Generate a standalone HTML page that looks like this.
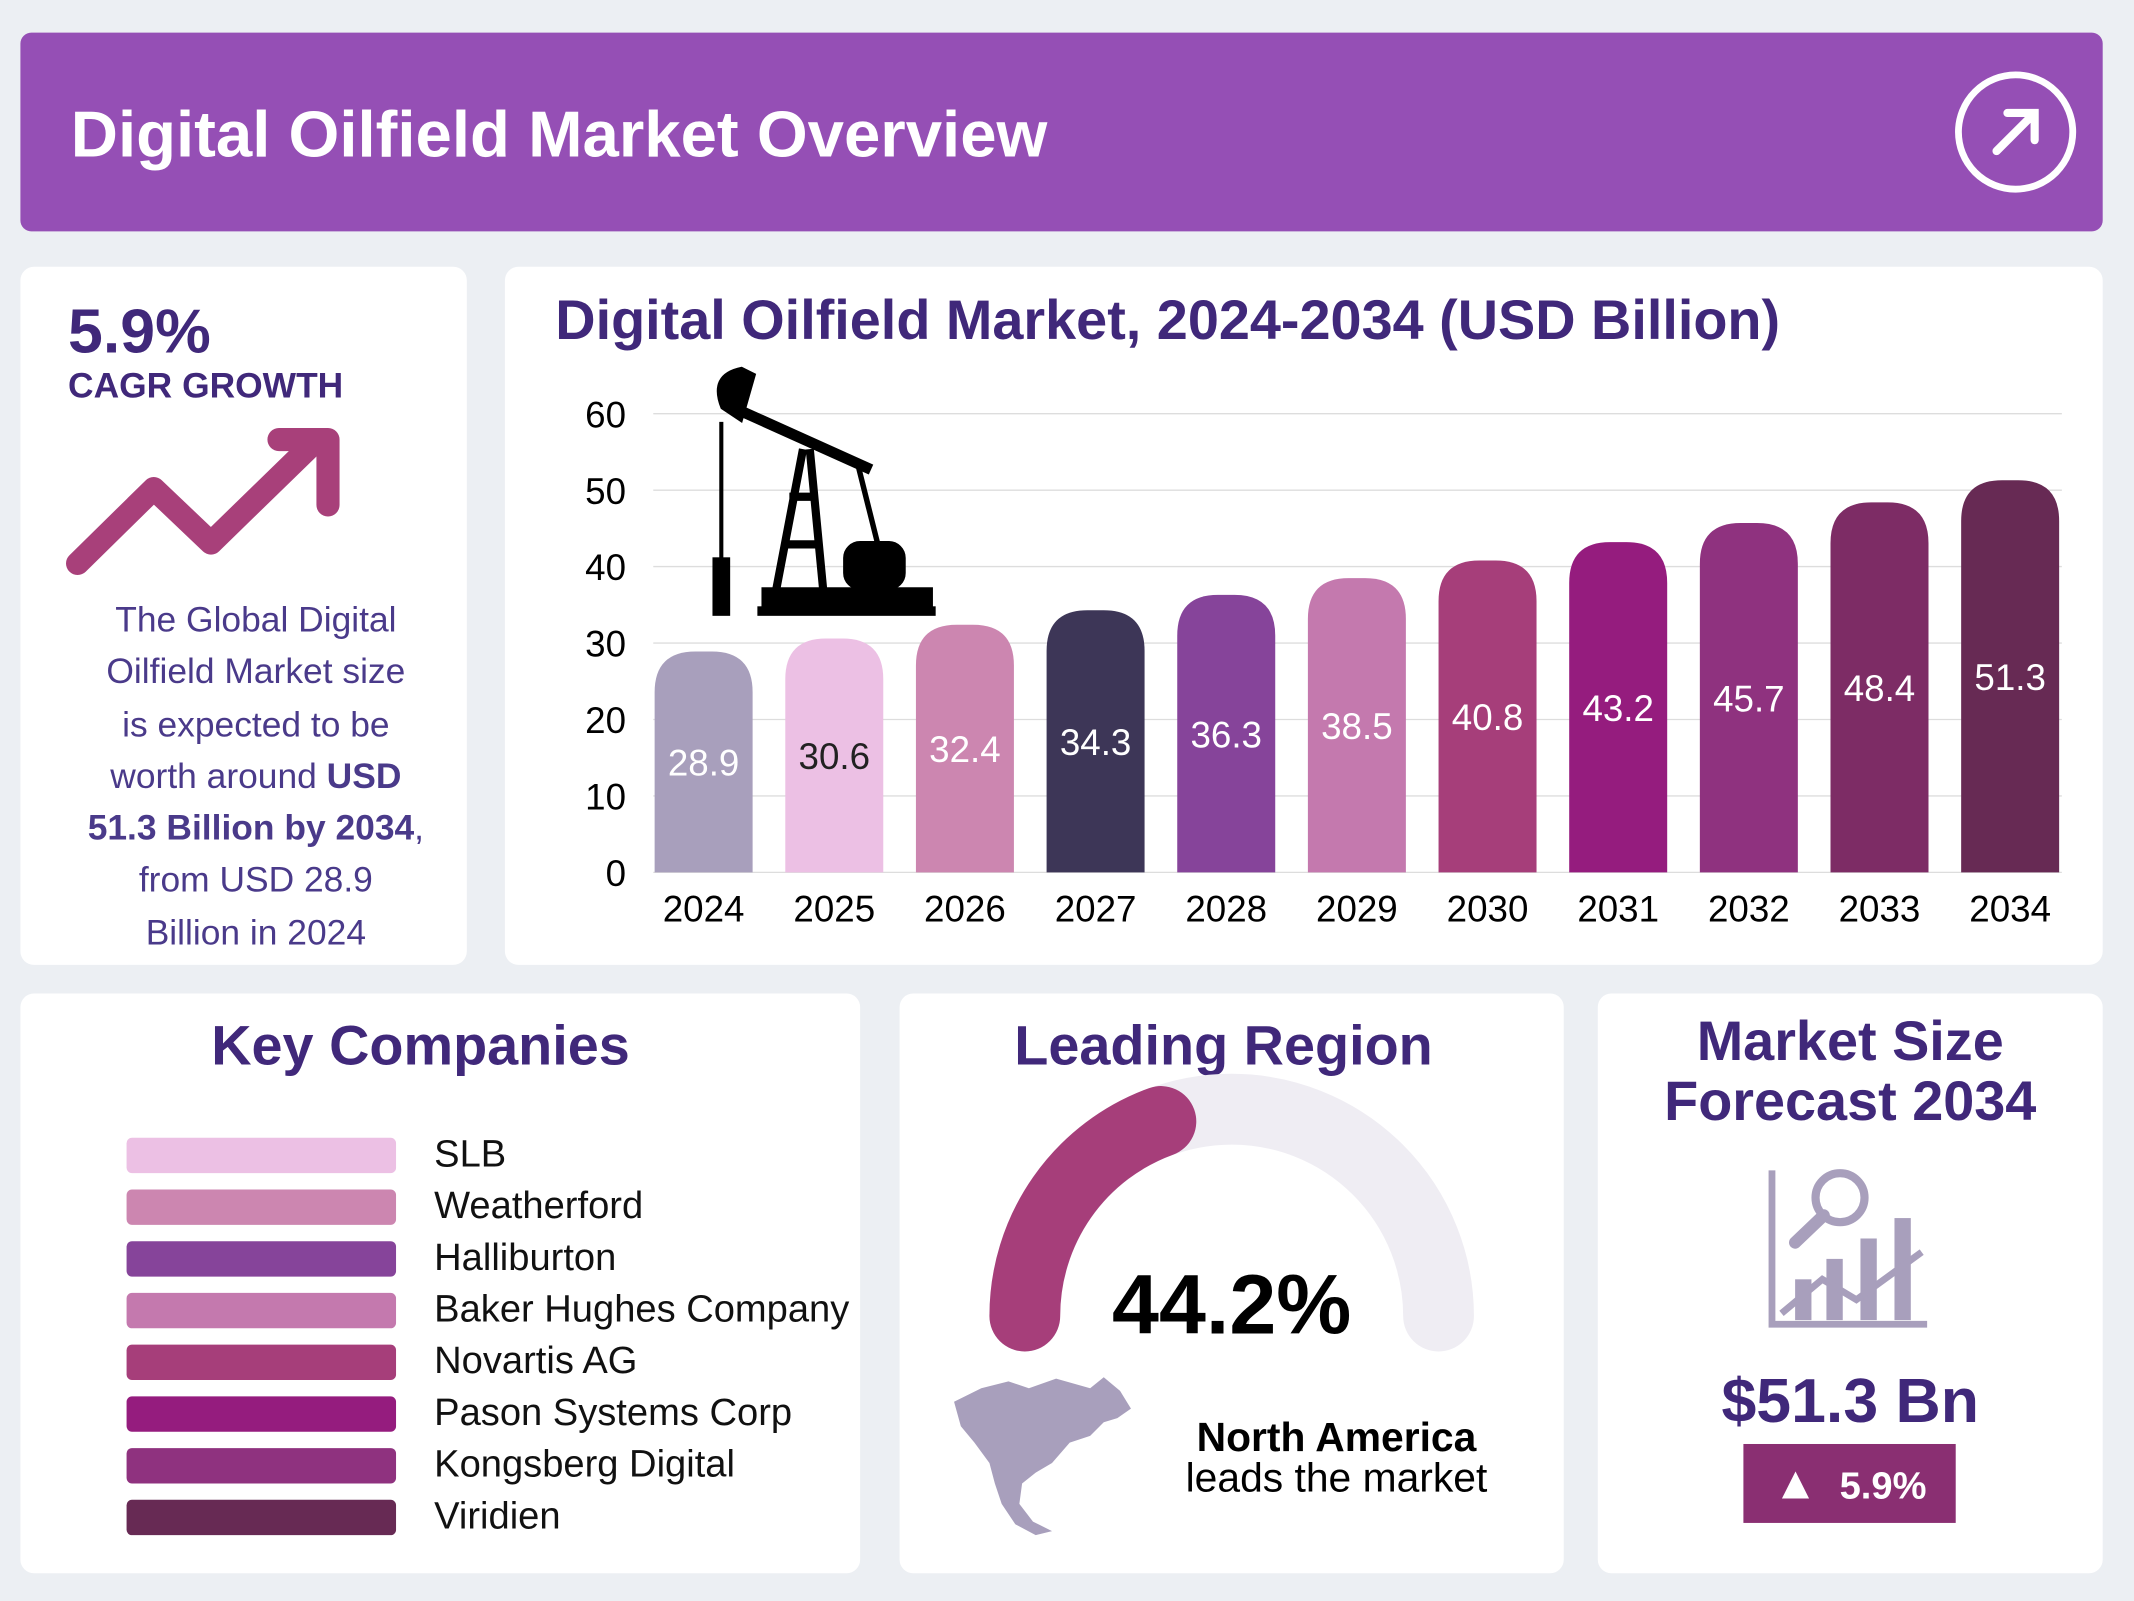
<!DOCTYPE html>
<html><head><meta charset="utf-8"><style>
html,body{margin:0;padding:0;width:2134px;height:1600px;overflow:hidden;background:#eceff3}
#root{position:absolute;left:0;top:0;width:1568px;height:1176px;transform:scale(1.36097);transform-origin:0 0;font-family:"Liberation Sans",sans-serif}
.card{position:absolute;background:#fff;border-radius:10px}
.abs{position:absolute}
.t{color:#40287a;font-weight:bold}
</style></head><body>
<div id="root">
<div class="abs" style="left:15px;top:24px;width:1530px;height:146px;background:#954fb5;border-radius:8px">
 <div class="abs" style="left:37px;top:48px;color:#fff;font-weight:bold;font-size:48px">Digital Oilfield Market Overview</div>
 <svg class="abs" style="left:1420px;top:27px" width="92" height="92"><circle cx="46" cy="46" r="42" fill="none" stroke="#fff" stroke-width="5"/><path d="M32 60 L60 32 M40 32 H60 V52" fill="none" stroke="#fff" stroke-width="6" stroke-linecap="round"/></svg>
</div>

<div class="card" style="left:15px;top:196px;width:328px;height:513px">
 <div class="abs t" style="left:35px;top:20px;font-size:46px">5.9%</div>
 <div class="abs t" style="left:35px;top:72px;font-size:26px">CAGR GROWTH</div>
 <svg class="abs" style="left:30px;top:115px" width="220" height="115"><path d="M12 103 L68 48 L110 88 L185 15" fill="none" stroke="#a8407a" stroke-width="17" stroke-linecap="round" stroke-linejoin="round"/><path d="M160 12 H196 V60" fill="none" stroke="#a8407a" stroke-width="17" stroke-linecap="round" stroke-linejoin="round"/></svg>
 <div class="abs" style="left:0;top:240px;width:346px;text-align:center;font-size:26px;line-height:38.3px;color:#4a3a8a;white-space:nowrap">The Global Digital<br>Oilfield Market size<br>is expected to be<br>worth around <b>USD</b><br><b>51.3 Billion by 2034</b>,<br>from USD 28.9<br>Billion in 2024</div>
</div>

<div class="card" style="left:371px;top:196px;width:1174px;height:513px">
 <div class="abs t" style="left:37px;top:16px;font-size:41px">Digital Oilfield Market, 2024-2034 (USD Billion)</div>
</div>
<svg class="abs" id="chart" style="left:0;top:0" width="1568" height="720"></svg>

<div class="card" style="left:15px;top:730px;width:617px;height:426px">
 <div class="abs t" style="left:0;top:15px;width:588px;text-align:center;font-size:41px">Key Companies</div>
 <div id="companies"></div>
</div>

<div class="card" style="left:661px;top:730px;width:488px;height:426px">
 <div class="abs t" style="left:0;top:15px;width:476px;text-align:center;font-size:41px">Leading Region</div>
 <svg class="abs" style="left:0;top:0" width="488" height="426">
  <path d="M92 237 A152 152 0 0 1 396 237" fill="none" stroke="#efedf3" stroke-width="52" stroke-linecap="round"/>
  <path d="M92 237 A152 152 0 0 1 192 94" fill="none" stroke="#a63e7a" stroke-width="52" stroke-linecap="round"/>
  <text x="244" y="250" text-anchor="middle" font-size="62" font-weight="bold" fill="#000" font-family="Liberation Sans">44.2%</text>
  <path d="M40 300 L60 290 L80 285 L95 290 L115 283 L140 290 L150 282 L162 292 L170 305 L160 312 L150 315 L140 325 L125 330 L112 345 L100 352 L90 360 L88 375 L98 388 L112 395 L100 398 L85 390 L75 375 L70 360 L66 345 L55 330 L45 318 Z" fill="#a89fbc"/>
  <text x="321" y="336" text-anchor="middle" font-size="30" font-weight="bold" fill="#000" font-family="Liberation Sans">North America</text>
  <text x="321" y="366" text-anchor="middle" font-size="30" fill="#000" font-family="Liberation Sans">leads the market</text>
 </svg>
</div>

<div class="card" style="left:1174px;top:730px;width:371px;height:426px">
 <div class="abs t" style="left:0;top:13px;width:371px;text-align:center;font-size:41px;line-height:44px">Market Size<br>Forecast 2034</div>
 <svg class="abs" style="left:120px;top:125px" width="130" height="125">
  <path d="M8 5 V118 H122" fill="none" stroke="#a89fbc" stroke-width="5"/>
  <circle cx="58" cy="25" r="18" fill="none" stroke="#a89fbc" stroke-width="6"/>
  <path d="M46 38 L25 58" stroke="#a89fbc" stroke-width="9" stroke-linecap="round"/>
  <rect x="25" y="85" width="12" height="30" fill="#a89fbc"/><rect x="48" y="70" width="12" height="45" fill="#a89fbc"/><rect x="73" y="55" width="12" height="60" fill="#a89fbc"/><rect x="98" y="40" width="12" height="75" fill="#a89fbc"/>
  <path d="M15 110 L45 85 L70 100 L118 65" fill="none" stroke="#a89fbc" stroke-width="5"/>
 </svg>
 <div class="abs t" style="left:0;top:272px;width:371px;text-align:center;font-size:46px">$51.3 Bn</div>
 <div class="abs" style="left:107px;top:331px;width:156px;height:58px;background:#8a2f72;color:#fff;font-weight:bold;font-size:28px;line-height:58px;text-align:center"><span style="font-size:34px">▲</span>&nbsp; 5.9%</div>
</div>
</div>
<script>
const years=["2024","2025","2026","2027","2028","2029","2030","2031","2032","2033","2034"];
const values=[28.9,30.6,32.4,34.3,36.3,38.5,40.8,43.2,45.7,48.4,51.3];
const ticks=[0,10,20,30,40,50,60];
const colors=["#a89fbc","#ecc0e4","#cc86b0","#3d3657","#86449a","#c479ae","#a63e7a","#951c7e","#8f327f","#7d2c65","#672a54"];
const NS="http://www.w3.org/2000/svg";
const svg=document.getElementById('chart');
const y=v=>641-v*(337/60);
const x=i=>517+i*96;
function mk(t,a){const e=document.createElementNS(NS,t);for(const k in a)e.setAttribute(k,a[k]);svg.appendChild(e);return e;}
ticks.forEach(t=>{
 const l=mk('line',{x1:480,x2:1515,y1:y(t),y2:y(t),stroke:'#dddddd','stroke-width':1});
 
 
 const tx=mk('text',{x:460,y:y(t)+10,'text-anchor':'end','font-size':27,'font-family':'Liberation Sans',fill:'#000'});
 tx.textContent=t;
 
 
});
values.forEach((v,i)=>{
 const top=y(v),w=72,r=30,cx=x(i),l=cx-w/2;
 const p=mk('path',{d:`M${l} 641 V${top+r} Q${l} ${top} ${l+r} ${top} H${l+w-r} Q${l+w} ${top} ${l+w} ${top+r} V641 Z`,fill:colors[i]});
 
 
 const t=mk('text',{x:cx,y:(top+641)/2+10,'text-anchor':'middle','font-size':27,'font-family':'Liberation Sans',fill:i==1?'#222':'#fff'});
 t.textContent=v.toFixed(1);
 
 
 const yl=mk('text',{x:cx,y:677,'text-anchor':'middle','font-size':27,'font-family':'Liberation Sans',fill:'#000'});
 yl.textContent=years[i];
 
 
});
const pump=mk('g',{fill:'#000',stroke:'#000'});


pump.innerHTML='<path d="M530 300 Q520 275 545 270 L555 275 L545 310 Z"/><line x1="540" y1="300" x2="640" y2="345" stroke-width="8"/><path d="M590 330 L570 435 M595 330 L605 435 M575 400 H603 M580 365 H600" stroke-width="6" fill="none"/><rect x="620" y="398" width="45" height="35" rx="12"/><line x1="630" y1="340" x2="645" y2="400" stroke-width="4"/><rect x="560" y="432" width="125" height="14"/><rect x="557" y="446" width="130" height="6"/><line x1="530" y1="310" x2="530" y2="450" stroke-width="3"/><rect x="524" y="410" width="12" height="42"/>';
svg.appendChild(pump);
const comps=["SLB","Weatherford","Halliburton","Baker Hughes Company","Novartis AG","Pason Systems Corp","Kongsberg Digital","Viridien"];
const ccolors=["#ecc0e4","#cc86b0","#86449a","#c479ae","#a63e7a","#951c7e","#8f327f","#672a54"];
const cc=document.getElementById('companies');
comps.forEach((c,i)=>{
 const b=document.createElement('div');b.className='abs';
 
 
 b.style.cssText=`left:78px;top:${106+i*38}px;width:198px;height:26px;border-radius:4px;background:${ccolors[i]}`;
 cc.appendChild(b);
 const t=document.createElement('div');t.className='abs';
 
 
 t.style.cssText=`left:304px;top:${102+i*38}px;font-size:28px;color:#111;white-space:nowrap`;
 t.textContent=c;cc.appendChild(t);
});
</script>
</body></html>
